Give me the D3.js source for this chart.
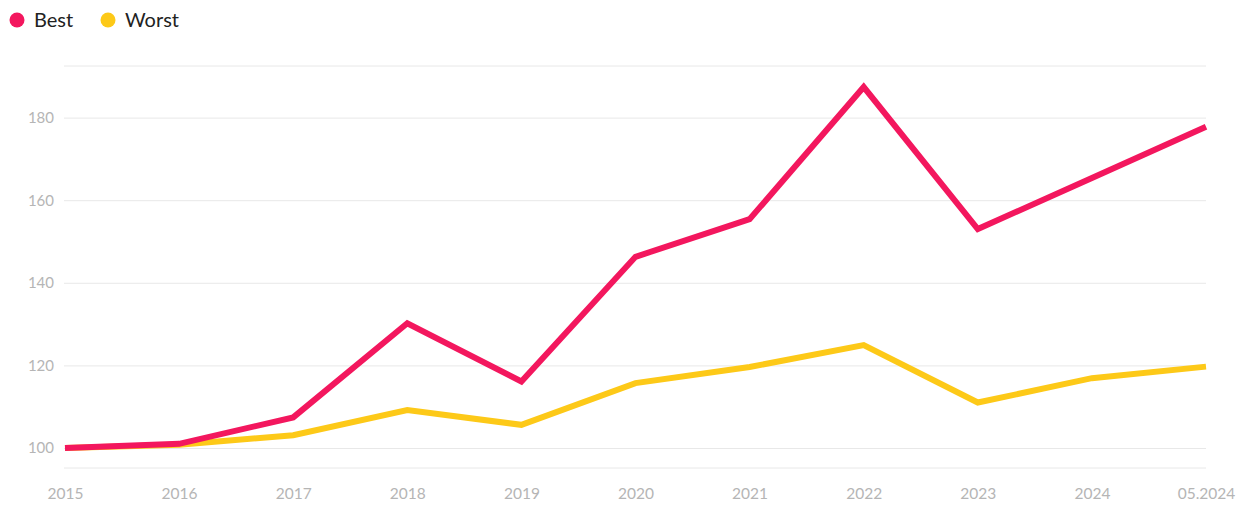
<!DOCTYPE html>
<html>
<head>
<meta charset="utf-8">
<script src="https://cdn.jsdelivr.net/npm/d3@7"></script>
<style>
  html, body { margin: 0; padding: 0; background: #fff; }
  svg { display: block; }
</style>
</head>
<body>
<svg id="chart" width="1245" height="518"></svg>
<script>
const categories = ["2015","2016","2017","2018","2019","2020","2021","2022","2023","2024","05.2024"];
const bestValues  = [100, 101.0, 107.4, 130.2, 116.1, 146.3, 155.4, 187.4, 153.0, 165.4, 177.8];
const worstValues = [100, 100.8, 103.1, 109.2, 105.6, 115.7, 119.6, 124.9, 111.0, 116.9, 119.7];
const yTicks = [100, 120, 140, 160, 180];
const seriesNames = ["Best", "Worst"];
const seriesColors = ["#f3175e", "#fdc918"];

const svg = d3.select("#chart");
const font = "Lato, 'Open Sans', sans-serif";

const x = d3.scalePoint().domain(categories).range([65, 1206]);
const y = d3.scaleLinear().domain([95.15, 192.5]).range([468, 66]);
const gridLeft = 64, gridRight = 1206;

// frame lines (top/bottom of plot)
svg.append("g").selectAll("line").data(y.domain()).join("line")
  .attr("x1", gridLeft).attr("x2", gridRight)
  .attr("y1", d => y(d)).attr("y2", d => y(d))
  .attr("stroke", "#e8e8e8").attr("stroke-width", 1);

// y grid + labels
const yAxis = d3.axisLeft(y).tickValues(yTicks).tickSize(-(gridRight - gridLeft)).tickPadding(10);
const yg = svg.append("g").attr("transform", `translate(${gridLeft},0)`).call(yAxis);
yg.select(".domain").remove();
yg.selectAll(".tick line").attr("stroke", "#e8e8e8");
yg.selectAll(".tick text").attr("fill", "#b5b5b5").style("font-family", font).style("font-size", "15px");

// x labels
const xAxis = d3.axisBottom(x).tickSize(0).tickPadding(0);
const xg = svg.append("g").attr("transform", "translate(0,488)").call(xAxis);
xg.select(".domain").remove();
xg.selectAll(".tick text").attr("fill", "#b5b5b5").style("font-family", font).style("font-size", "15.5px");

// lines
const line = d3.line().x((d, i) => x(categories[i])).y(d => y(d));
[bestValues, worstValues].slice().reverse().forEach((vals, k) => {
  const idx = 1 - k;
  svg.append("path").datum(vals)
    .attr("d", line)
    .attr("fill", "none")
    .attr("stroke", seriesColors[idx])
    .attr("stroke-width", 6)
    .attr("stroke-linejoin", "miter")
    .attr("stroke-linecap", "butt");
});

// legend
const legendX = [17, 108];
const lg = svg.append("g");
seriesNames.forEach((name, i) => {
  lg.append("circle").attr("cx", legendX[i]).attr("cy", 20).attr("r", 7.5).attr("fill", seriesColors[i]);
  lg.append("text").attr("x", legendX[i] + 17).attr("y", 27)
    .text(name).attr("fill", "#222").style("font-family", font).style("font-size", "20px");
});
</script>
</body>
</html>
